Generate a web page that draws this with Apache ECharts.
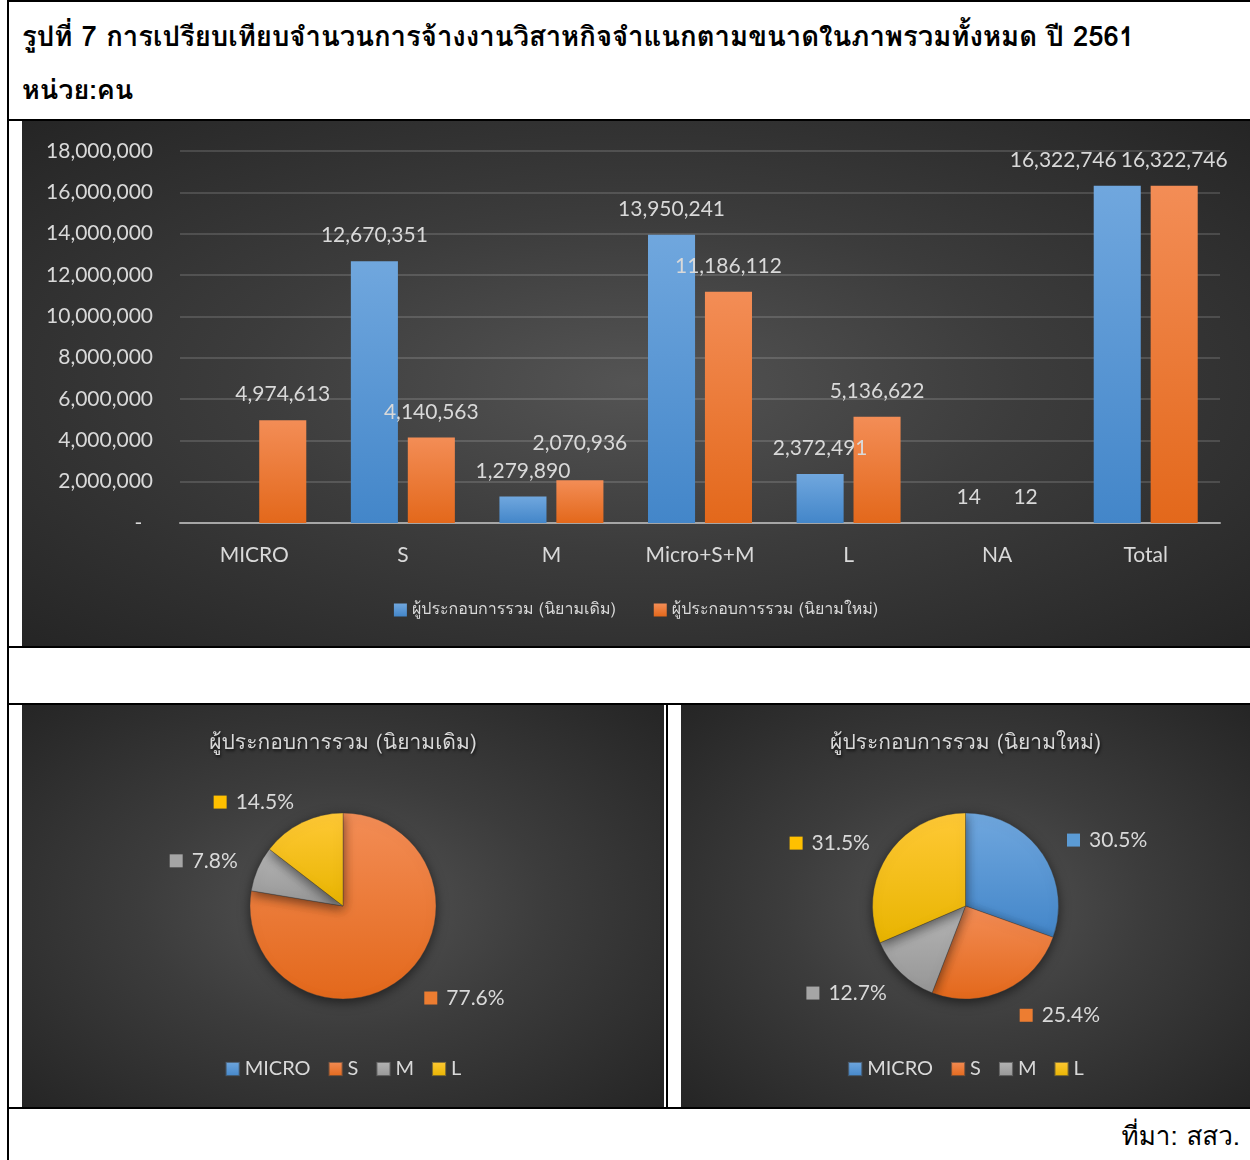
<!DOCTYPE html>
<html><head><meta charset="utf-8">
<script src="https://cdn.jsdelivr.net/npm/echarts@6/dist/echarts.min.js"></script>
<style>
html,body{margin:0;padding:0;background:#fff;width:1250px;height:1160px;overflow:hidden;}
body{position:relative;font-family:Tahoma,Loma,Garuda,"Noto Sans Thai Looped","Noto Sans","DejaVu Sans",sans-serif;}
.hl{position:absolute;height:2px;background:#000;left:7px;right:0;}
.vl{position:absolute;width:2px;background:#000;}
.dark{position:absolute;background:radial-gradient(ellipse farthest-corner at 50% 50%,#545454 0%,#3c3c3c 45%,#252525 100%);}
#title{position:absolute;left:22px;top:14px;font-size:27.5px;font-weight:bold;color:#000;white-space:nowrap;}
#unit{position:absolute;left:22px;top:68px;font-size:27px;font-weight:bold;color:#000;white-space:nowrap;}
#src{position:absolute;right:10px;top:1115px;font-size:26px;color:#000;white-space:nowrap;}
</style>
</head><body>
<div class="hl" style="top:0px"></div>
<div class="vl" style="left:7px;top:0;height:1160px"></div>
<div class="hl" style="top:119px"></div>
<div class="hl" style="top:646px"></div>
<div class="hl" style="top:703px"></div>
<div class="hl" style="top:1107px"></div>
<div class="vl" style="left:666px;top:704px;height:404px"></div>
<div id="title">รูปที่ 7 การเปรียบเทียบจำนวนการจ้างงานวิสาหกิจจำแนกตามขนาดในภาพรวมทั้งหมด ปี 2561</div>
<div id="unit">หน่วย:คน</div>
<div id="bar" class="dark" style="left:22px;top:121px;width:1228px;height:525px"></div>
<div id="pie1" class="dark" style="left:22px;top:705px;width:642px;height:402px"></div>
<div id="pie2" class="dark" style="left:681px;top:705px;width:569px;height:402px"></div>
<div id="src">ที่มา: สสว.</div>
<script>
// ---- data ----
const categories = ['MICRO', 'S', 'M', 'Micro+S+M', 'L', 'NA', 'Total'];
const seriesNames = ['ผู้ประกอบการรวม (นิยามเดิม)', 'ผู้ประกอบการรวม (นิยามใหม่)'];
const oldDefinition = [null, 12670351, 1279890, 13950241, 2372491, 14, 16322746];
const newDefinition = [4974613, 4140563, 2070936, 11186112, 5136622, 12, 16322746];
const pieCategories = ['MICRO', 'S', 'M', 'L'];
const pieTitles = ['ผู้ประกอบการรวม (นิยามเดิม)', 'ผู้ประกอบการรวม (นิยามใหม่)'];
const yTicks = { min: 0, max: 18000000, interval: 2000000 };

// ---- styles ----
const TXT = '#d9d9d9';
const NUMFONT = 'Lato, "Open Sans", "Noto Sans", sans-serif';
const THAIFONT = 'Tahoma, Loma, Garuda, "Noto Sans Thai Looped", "Noto Sans", sans-serif';
const grad = (a, b) => new echarts.graphic.LinearGradient(0, 0, 0, 1, [{offset: 0, color: a}, {offset: 1, color: b}]);
const BLUE = grad('#70a7de', '#4386c9');
const ORANGE = grad('#f38d56', '#e3681b');
const GRAY = grad('#b5b5b5', '#969696');
const GOLD = grad('#ffc936', '#e8b400');
const pieColors = [BLUE, ORANGE, GRAY, GOLD];
const pieSolid = ['#5b9bd5', '#ed7d31', '#a5a5a5', '#ffc000'];
const fmt = v => Number(v).toLocaleString('en-US');
// label nudges that mimic the source's overlap avoidance (series -> category index -> [dx, dy])
const labelNudges = [{6: [-54, 0]}, {2: [0, -11]}];

function barData(values, si) {
  return values.map((v, i) => labelNudges[si][i] ? {value: v, label: {offset: labelNudges[si][i]}} : v);
}

// ---- bar chart ----
const bar = echarts.init(document.getElementById('bar'), null, {renderer: 'canvas'});
const barLabel = {show: true, position: 'top', distance: 15, color: TXT, fontSize: 21, formatter: p => fmt(p.value)};
bar.setOption({
  animation: false,
  textStyle: {fontFamily: NUMFONT},
  grid: {left: 158, right: 30, top: 30, bottom: 123, containLabel: false},
  legend: {
    top: 476, left: 'center', itemWidth: 13, itemHeight: 13, itemGap: 38, icon: 'rect',
    textStyle: {color: TXT, fontSize: 16, fontFamily: THAIFONT},
    data: seriesNames
  },
  xAxis: {
    type: 'category', data: categories,
    axisLine: {lineStyle: {color: '#a6a6a6', width: 2}},
    axisTick: {show: false},
    axisLabel: {color: TXT, fontSize: 21, margin: 22}
  },
  yAxis: {
    type: 'value', min: yTicks.min, max: yTicks.max, interval: yTicks.interval,
    axisLine: {show: false}, axisTick: {show: false},
    splitLine: {lineStyle: {color: 'rgba(255,255,255,0.14)', width: 2}},
    axisLabel: {color: TXT, fontSize: 21, margin: 27, formatter: v => v === 0 ? '-  ' : fmt(v)}
  },
  series: [
    {name: seriesNames[0], type: 'bar', data: barData(oldDefinition, 0), barGap: '21%', barCategoryGap: '30%',
     itemStyle: {color: BLUE}, label: barLabel},
    {name: seriesNames[1], type: 'bar', data: barData(newDefinition, 1), barGap: '21%', barCategoryGap: '30%',
     itemStyle: {color: ORANGE}, label: barLabel}
  ]
});

// ---- pie charts ----
function pieOption(title, values) {
  const total = values.reduce((s, v) => s + v, 0);
  const rich = {t: {color: TXT, fontSize: 21, fontFamily: NUMFONT, padding: [0, 0, 0, 9]}};
  pieSolid.forEach((c, i) => { rich['k' + i] = {width: 13, height: 13, backgroundColor: c}; });
  return {
    animation: false,
    textStyle: {fontFamily: NUMFONT},
    title: {
      text: title, left: 'center', top: 24,
      textStyle: {color: TXT, fontSize: 21, fontWeight: 'normal', fontFamily: THAIFONT,
        textShadowColor: 'rgba(0,0,0,0.7)', textShadowBlur: 3, textShadowOffsetX: 1, textShadowOffsetY: 2}
    },
    legend: {
      top: 349, left: 'center', icon: 'rect', itemWidth: 14, itemHeight: 14, itemGap: 17,
      textStyle: {color: TXT, fontSize: 20},
      data: pieCategories
    },
    series: [{
      type: 'pie', radius: 93, center: ['50%', '50%'], startAngle: 90, clockwise: true,
      avoidLabelOverlap: false,
      itemStyle: {shadowBlur: 12, shadowColor: 'rgba(0,0,0,0.55)', shadowOffsetY: 3, borderColor: 'rgba(60,60,60,0.6)', borderWidth: 0.6},
      label: {
        show: true, position: 'outside', rich: rich,
        formatter: p => p.value ? `{k${p.dataIndex}|}{t|${(p.value / total * 100).toFixed(1)}%}` : ''
      },
      labelLine: {show: false, length: 25, length2: 1},
      labelLayout: p => ({dx: p.align === 'right' ? 9 : -1, dy: 2}),
      data: pieCategories.map((c, i) => ({name: c, value: values[i] || 0, itemStyle: {color: pieColors[i]}}))
    }]
  };
}
const pick = arr => pieCategories.map(c => arr[categories.indexOf(c)] || 0);
echarts.init(document.getElementById('pie1')).setOption(pieOption(pieTitles[0], pick(oldDefinition)));
echarts.init(document.getElementById('pie2')).setOption(pieOption(pieTitles[1], pick(newDefinition)));
</script>
</body></html>
